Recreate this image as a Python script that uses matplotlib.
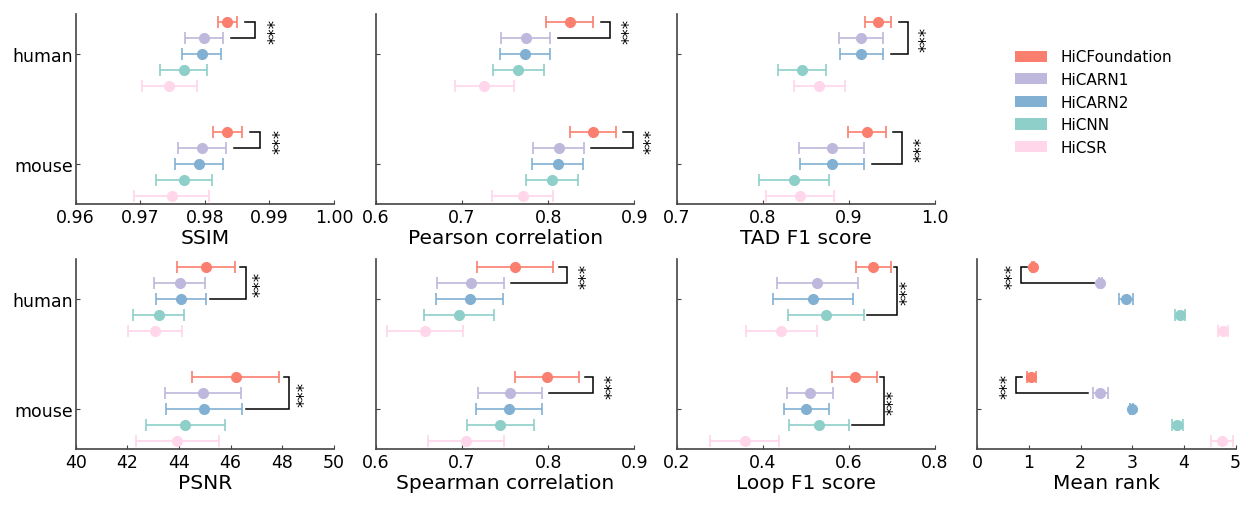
import matplotlib
matplotlib.use("Agg")
import matplotlib.pyplot as plt
from matplotlib.patches import Patch

methods = ["HiCFoundation", "HiCARN1", "HiCARN2", "HiCNN", "HiCSR"]
colors = ["#FA7F6F", "#BEB8DC", "#82B0D2", "#8ECFC9", "#FFD6EA"]
species = ["human", "mouse"]

# metric values: mean and sd for human / mouse, order as methods
ssim_h = [0.9835, 0.9799, 0.9795, 0.9767, 0.9745]
ssim_h_sd = [0.0015, 0.0029, 0.0030, 0.0037, 0.0043]
ssim_m = [0.9835, 0.9795, 0.9791, 0.9768, 0.9749]
ssim_m_sd = [0.0022, 0.0037, 0.0037, 0.0043, 0.0058]

pear_h = [0.8248, 0.7740, 0.7729, 0.7655, 0.7260]
pear_h_sd = [0.0275, 0.0285, 0.0287, 0.0300, 0.0340]
pear_m = [0.8516, 0.8120, 0.8109, 0.8043, 0.7702]
pear_m_sd = [0.0267, 0.0293, 0.0297, 0.0306, 0.0359]

tad_h = [0.9342, 0.9141, 0.9145, 0.8459, 0.8657]
tad_h_sd = [0.0151, 0.0259, 0.0254, 0.0279, 0.0292]
tad_m = [0.9210, 0.8800, 0.8804, 0.8366, 0.8436]
tad_m_sd = [0.0217, 0.0375, 0.0372, 0.0405, 0.0395]

psnr_h = [45.05, 44.03, 44.07, 43.21, 43.06]
psnr_h_sd = [1.13, 0.99, 0.96, 0.99, 1.05]
psnr_m = [46.19, 44.92, 44.96, 44.25, 43.94]
psnr_m_sd = [1.68, 1.48, 1.46, 1.52, 1.62]

spear_h = [0.7614, 0.7099, 0.7088, 0.6964, 0.6573]
spear_h_sd = [0.0439, 0.0391, 0.0391, 0.0410, 0.0443]
spear_m = [0.7986, 0.7556, 0.7545, 0.7444, 0.7045]
spear_m_sd = [0.0368, 0.0375, 0.0379, 0.0389, 0.0439]

loop_h = [0.6570, 0.5263, 0.5170, 0.5464, 0.4428]
loop_h_sd = [0.0402, 0.0943, 0.0932, 0.0877, 0.0823]
loop_m = [0.6136, 0.5100, 0.5015, 0.5301, 0.3577]
loop_m_sd = [0.0518, 0.0530, 0.0522, 0.0692, 0.0808]

rank_h = [1.085, 2.384, 2.881, 3.928, 4.755]
rank_h_sd = [0.02, 0.03, 0.13, 0.10, 0.09]
rank_m = [1.047, 2.384, 2.991, 3.870, 4.735]
rank_m_sd = [0.09, 0.139, 0.03, 0.11, 0.21]

panels = [
    dict(label="SSIM", h=ssim_h, hs=ssim_h_sd, m=ssim_m, ms=ssim_m_sd,
         xlim=(0.96, 1.00), ticks=[0.96, 0.97, 0.98, 0.99, 1.00], fmt="{:.2f}", cmp=1),
    dict(label="Pearson correlation", h=pear_h, hs=pear_h_sd, m=pear_m, ms=pear_m_sd,
         xlim=(0.6, 0.9), ticks=[0.6, 0.7, 0.8, 0.9], fmt="{:.1f}", cmp=1),
    dict(label="TAD F1 score", h=tad_h, hs=tad_h_sd, m=tad_m, ms=tad_m_sd,
         xlim=(0.7, 1.0), ticks=[0.7, 0.8, 0.9, 1.0], fmt="{:.1f}", cmp=2),
    dict(label="PSNR", h=psnr_h, hs=psnr_h_sd, m=psnr_m, ms=psnr_m_sd,
         xlim=(40, 50), ticks=[40, 42, 44, 46, 48, 50], fmt="{:.0f}", cmp=2),
    dict(label="Spearman correlation", h=spear_h, hs=spear_h_sd, m=spear_m, ms=spear_m_sd,
         xlim=(0.6, 0.9), ticks=[0.6, 0.7, 0.8, 0.9], fmt="{:.1f}", cmp=1),
    dict(label="Loop F1 score", h=loop_h, hs=loop_h_sd, m=loop_m, ms=loop_m_sd,
         xlim=(0.2, 0.8), ticks=[0.2, 0.4, 0.6, 0.8], fmt="{:.1f}", cmp=3),
    dict(label="Mean rank", h=rank_h, hs=rank_h_sd, m=rank_m, ms=rank_m_sd,
         xlim=(0, 5), ticks=[0, 1, 2, 3, 4, 5], fmt="{:.0f}", cmp=1),
]
# bracket layout (pixels): gap, star offset, side
brk = [(8.3, 20.4, 1), (7.7, 19.0, 1), (7.5, 19.0, 1), (4.7, 15.0, 1),
       (6.5, 19.0, 1), (3.0, 10.0, 1), (5.0, 8.5, -1)]

W, H = 1247, 506
fig = plt.figure(figsize=(W / 100, H / 100), dpi=100)

lefts = [75.7, 376.0, 676.7, 977.3]
axw = 258.3
tops = [15, 260]
axh = 190

positions = [(0, 0), (0, 1), (0, 2), (1, 0), (1, 1), (1, 2), (1, 3)]
step = 0.1441
centers = {"human": 1.0, "mouse": 0.0}
spine_col = "#444444"

for p, (r, c), (gpx, spx, side) in zip(panels, positions, brk):
    ax = fig.add_axes([lefts[c] / W, 1 - (tops[r] + axh) / H, axw / W, axh / H])
    x0, x1 = p["xlim"]
    pxd = (x1 - x0) / axw
    for sp, vals, sds in (("human", p["h"], p["hs"]), ("mouse", p["m"], p["ms"])):
        ys = [centers[sp] + (2 - i) * step for i in range(5)]
        for i in range(5):
            ax.errorbar(vals[i], ys[i], xerr=sds[i], fmt="o", color=colors[i],
                        ecolor=colors[i], ms=7, capsize=4, elinewidth=1.2,
                        capthick=1.2, zorder=3)
        j = p["cmp"]
        d = gpx * pxd
        if side > 0:
            e0 = vals[0] + sds[0]
            ej = vals[j] + sds[j]
            xv = max(e0, ej) + 2.2 * d
            ax.plot([e0 + d, xv, xv, ej + d], [ys[0], ys[0], ys[j], ys[j]],
                    color="black", lw=1.1, zorder=2, solid_joinstyle="miter")
        else:
            e0 = vals[0] - sds[0]
            ej = vals[j] - sds[j]
            xv = min(e0, ej) - 2.2 * d
            ax.plot([e0 - d, xv, xv, ej - d], [ys[0], ys[0], ys[j], ys[j]],
                    color="black", lw=1.1, zorder=2, solid_joinstyle="miter")
        ax.text(xv + side * spx * pxd, (ys[0] + ys[j]) / 2, "***", rotation=90,
                ha="center", va="center", fontsize=12, clip_on=False)
    ax.set_xlim(x0, x1)
    ax.set_ylim(-0.362, 1.362)
    ax.set_xticks(p["ticks"])
    ax.set_xticklabels([p["fmt"].format(t) for t in p["ticks"]])
    ax.set_yticks([centers["human"], centers["mouse"]])
    if c == 0:
        ax.set_yticklabels(species)
    else:
        ax.set_yticklabels([])
        ax.tick_params(axis="y", length=0)
    ax.tick_params(direction="in", labelsize=12.5, length=3, color=spine_col, pad=3)
    ax.tick_params(axis="y", pad=2)
    ax.set_xlabel(p["label"], fontsize=14.5, labelpad=1.5)
    for s in ("top", "right"):
        ax.spines[s].set_visible(False)
    for s in ("left", "bottom"):
        ax.spines[s].set_color(spine_col)
        ax.spines[s].set_linewidth(1.2)

handles = [Patch(facecolor=col, edgecolor="none") for col in colors]
fig.legend(handles, methods, loc="upper left", bbox_to_anchor=(1015 / W, 1 - 50.5 / H),
           frameon=False, fontsize=11, borderpad=0, borderaxespad=0,
           handlelength=2.1, handleheight=0.75, labelspacing=0.5, handletextpad=0.85)

fig.savefig("out.png", dpi=100)
